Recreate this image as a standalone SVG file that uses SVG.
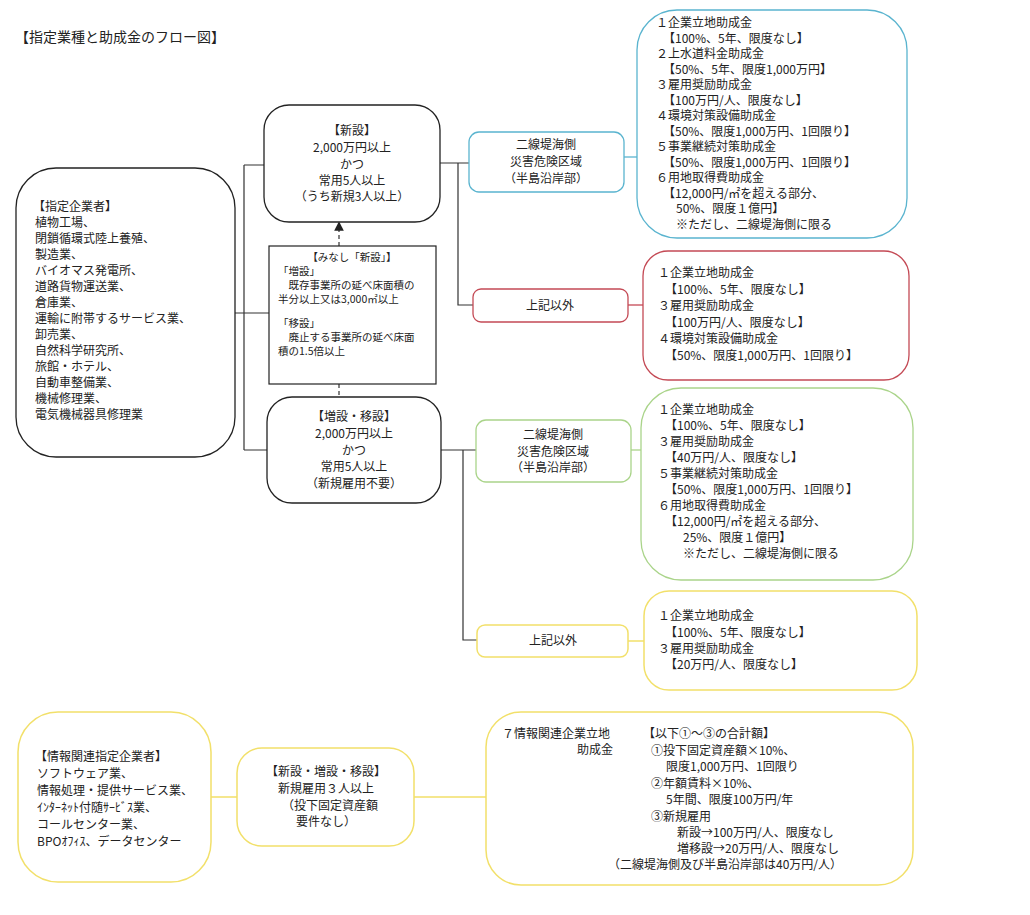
<svg xmlns="http://www.w3.org/2000/svg" width="1030" height="915" viewBox="0 0 1030 915">
<defs>
<style>
text{font-family:"Noto Sans CJK JP","Noto Sans",sans-serif;font-size:12px;fill:#222}
.c{text-anchor:middle}
.s{font-size:10.5px}
.k{fill:#fff;stroke:#222;stroke-width:1.3}
.b{fill:#fff;stroke:#5ab4cf;stroke-width:1.3}
.r{fill:#fff;stroke:#c44a55;stroke-width:1.3}
.g{fill:#fff;stroke:#aad48a;stroke-width:1.3}
.y{fill:#fff;stroke:#f2e06a;stroke-width:1.5}
.ln{fill:none;stroke:#333;stroke-width:1.2}
</style>
<marker id="ah" markerWidth="8" markerHeight="8" refX="4" refY="4" orient="auto"><path d="M0,0L8,4L0,8z" fill="#222"/></marker>
</defs>
<rect width="1030" height="915" fill="#fff"/>
<text x="15" y="42" style="font-size:14px">【指定業種と助成金のフロー図】</text>

<g id="connectors">
<path class="ln" d="M235,313H269M244,165V450M244,165H264M244,450H267"/>
<path class="ln" d="M339,246V226" stroke-dasharray="4,3" marker-end="url(#ah)"/>
<path class="ln" d="M339,384V397" stroke-dasharray="4,3"/>
<path class="ln" d="M440,163H469M458,163V305H473"/>
<path class="ln" d="M441,450H476M463,450V640H477"/>
<path d="M624,157H637" stroke="#5ab4cf" stroke-width="1.3"/>
<path d="M628,305H643" stroke="#c44a55" stroke-width="1.3"/>
<path d="M631,450H641" stroke="#aad48a" stroke-width="1.3"/>
<path d="M628,641H644" stroke="#f2e06a" stroke-width="1.5"/>
<path d="M211,797H237M414,797H486" stroke="#f2e06a" stroke-width="1.5"/>
</g>

<g id="designated">
<rect class="k" x="16" y="168" width="219" height="289" rx="40"/>
<text x="33" y="211">【指定企業者】</text>
<text x="35" y="227">植物工場、</text>
<text x="35" y="243">閉鎖循環式陸上養殖、</text>
<text x="35" y="259">製造業、</text>
<text x="35" y="275">バイオマス発電所、</text>
<text x="35" y="291">道路貨物運送業、</text>
<text x="35" y="307">倉庫業、</text>
<text x="35" y="323">運輸に附帯するサービス業、</text>
<text x="35" y="339">卸売業、</text>
<text x="35" y="355">自然科学研究所、</text>
<text x="35" y="371">旅館・ホテル、</text>
<text x="35" y="387">自動車整備業、</text>
<text x="35" y="403">機械修理業、</text>
<text x="35" y="419">電気機械器具修理業</text>
</g>

<g id="shinsetsu">
<rect class="k" x="264" y="105" width="176" height="117" rx="25"/>
<text class="c" x="352" y="135">【新設】</text>
<text class="c" x="352" y="152">2,000万円以上</text>
<text class="c" x="352" y="169">かつ</text>
<text class="c" x="352" y="185">常用5人以上</text>
<text class="c" x="352" y="201">（うち新規3人以上）</text>
</g>

<g id="minashi">
<rect x="269" y="246" width="167" height="138" fill="#fff" stroke="#222" stroke-width="1.2"/>
<text class="c s" x="352" y="261">【みなし「新設」】</text>
<text class="s" x="278" y="275">「増設」</text>
<text class="s" x="278" y="289">　既存事業所の延べ床面積の</text>
<text class="s" x="278" y="303">半分以上又は3,000㎡以上</text>
<text class="s" x="278" y="327">「移設」</text>
<text class="s" x="278" y="341">　廃止する事業所の延べ床面</text>
<text class="s" x="278" y="355">積の1.5倍以上</text>
</g>

<g id="zousetsu">
<rect class="k" x="267" y="397" width="174" height="106" rx="25"/>
<text class="c" x="354" y="421">【増設・移設】</text>
<text class="c" x="354" y="438">2,000万円以上</text>
<text class="c" x="354" y="455">かつ</text>
<text class="c" x="354" y="471">常用5人以上</text>
<text class="c" x="354" y="488">（新規雇用不要）</text>
</g>

<g id="blue-area">
<rect class="b" x="469" y="132" width="155" height="60" rx="10"/>
<text class="c" x="546" y="149">二線堤海側</text>
<text class="c" x="546" y="166">災害危険区域</text>
<text class="c" x="546" y="183">（半島沿岸部）</text>
</g>
<g id="blue-list">
<rect class="b" x="637" y="10" width="270" height="228" rx="40"/>
<text x="656" y="27">１企業立地助成金</text>
<text x="663" y="43">【100%、5年、限度なし】</text>
<text x="656" y="58">２上水道料金助成金</text>
<text x="663" y="74">【50%、5年、限度1,000万円】</text>
<text x="656" y="89">３雇用奨励助成金</text>
<text x="663" y="105">【100万円/人、限度なし】</text>
<text x="656" y="120">４環境対策設備助成金</text>
<text x="663" y="136">【50%、限度1,000万円、1回限り】</text>
<text x="656" y="151">５事業継続対策助成金</text>
<text x="663" y="167">【50%、限度1,000万円、1回限り】</text>
<text x="656" y="182">６用地取得費助成金</text>
<text x="663" y="198">【12,000円/㎡を超える部分、</text>
<text x="676" y="213">50%、限度１億円】</text>
<text x="676" y="229">※ただし、二線堤海側に限る</text>
</g>

<g id="red-area">
<rect class="r" x="473" y="289" width="155" height="33" rx="8"/>
<text class="c" x="550" y="310">上記以外</text>
</g>
<g id="red-list">
<rect class="r" x="643" y="251" width="266" height="129" rx="25"/>
<text x="658" y="277">１企業立地助成金</text>
<text x="665" y="294">【100%、5年、限度なし】</text>
<text x="658" y="310">３雇用奨励助成金</text>
<text x="665" y="327">【100万円/人、限度なし】</text>
<text x="658" y="343">４環境対策設備助成金</text>
<text x="665" y="360">【50%、限度1,000万円、1回限り】</text>
</g>

<g id="green-area">
<rect class="g" x="476" y="420" width="155" height="62" rx="10"/>
<text class="c" x="553" y="439">二線堤海側</text>
<text class="c" x="553" y="456">災害危険区域</text>
<text class="c" x="553" y="472">（半島沿岸部）</text>
</g>
<g id="green-list">
<rect class="g" x="641" y="388" width="272" height="192" rx="40"/>
<text x="658" y="414">１企業立地助成金</text>
<text x="665" y="430">【100%、5年、限度なし】</text>
<text x="658" y="446">３雇用奨励助成金</text>
<text x="665" y="462">【40万円/人、限度なし】</text>
<text x="658" y="478">５事業継続対策助成金</text>
<text x="665" y="494">【50%、限度1,000万円、1回限り】</text>
<text x="658" y="510">６用地取得費助成金</text>
<text x="665" y="526">【12,000円/㎡を超える部分、</text>
<text x="683" y="542">25%、限度１億円】</text>
<text x="683" y="558">※ただし、二線堤海側に限る</text>
</g>

<g id="yellow-area">
<rect class="y" x="477" y="625" width="151" height="32" rx="8"/>
<text class="c" x="553" y="645">上記以外</text>
</g>
<g id="yellow-list">
<rect class="y" x="644" y="591" width="273" height="99" rx="25"/>
<text x="658" y="620">１企業立地助成金</text>
<text x="665" y="637">【100%、5年、限度なし】</text>
<text x="658" y="653">３雇用奨励助成金</text>
<text x="665" y="669">【20万円/人、限度なし】</text>
</g>

<g id="info-companies">
<rect class="y" x="18" y="712" width="193" height="170" rx="40"/>
<text x="35" y="761">【情報関連指定企業者】</text>
<text x="37" y="778">ソフトウェア業、</text>
<text x="37" y="795">情報処理・提供サービス業、</text>
<text x="37" y="812">ｲﾝﾀｰﾈｯﾄ付随ｻｰﾋﾞｽ業、</text>
<text x="37" y="829">コールセンター業、</text>
<text x="37" y="846">BPOｵﾌｨｽ、データセンター</text>
</g>

<g id="info-condition">
<rect class="y" x="237" y="748" width="177" height="98" rx="25"/>
<text class="c" x="326" y="776">【新設・増設・移設】</text>
<text class="c" x="326" y="793">新規雇用３人以上</text>
<text class="c" x="330" y="810">（投下固定資産額</text>
<text class="c" x="326" y="826">要件なし）</text>
</g>

<g id="info-grant">
<rect class="y" x="486" y="712" width="427" height="173" rx="35"/>
<text x="502" y="738">７情報関連企業立地</text>
<text x="577" y="754">助成金</text>
<text x="643" y="738">【以下①～③の合計額】</text>
<text x="651" y="755">①投下固定資産額×10%、</text>
<text x="666" y="771">限度1,000万円、1回限り</text>
<text x="651" y="788">②年額賃料×10%、</text>
<text x="666" y="804">5年間、限度100万円/年</text>
<text x="651" y="821">③新規雇用</text>
<text x="677" y="837">新設→100万円/人、限度なし</text>
<text x="677" y="853">増移設→20万円/人、限度なし</text>
<text x="608" y="869">（二線堤海側及び半島沿岸部は40万円/人）</text>
</g>
</svg>
